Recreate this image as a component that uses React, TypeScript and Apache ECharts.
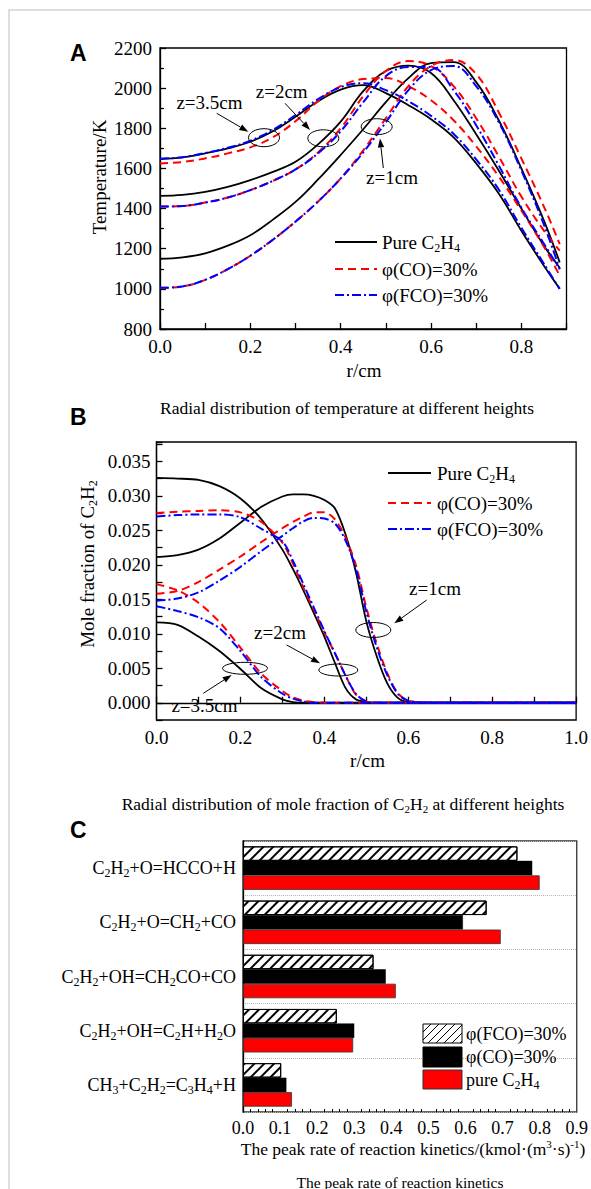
import React, { useEffect, useRef } from 'react';
import * as echarts from 'echarts';

// ---------- Panel A: temperature (K) vs r (cm) ----------
const R_A = [0, 0.05, 0.1, 0.15, 0.2, 0.25, 0.3, 0.35, 0.4, 0.45, 0.5, 0.55, 0.6, 0.65, 0.7, 0.75, 0.8, 0.85, 0.885];
const A1_PURE = [1150, 1157, 1177, 1215, 1267, 1345, 1433, 1545, 1667, 1795, 1930, 2050, 2125, 2130, 2030, 1840, 1600, 1340, 1132];
const A1_CO = [1005, 1012, 1045, 1098, 1165, 1245, 1335, 1435, 1550, 1690, 1850, 2010, 2110, 2140, 2070, 1880, 1650, 1410, 1223];
const A1_FCO = [1005, 1012, 1045, 1098, 1165, 1245, 1335, 1435, 1550, 1680, 1830, 1990, 2090, 2110, 2010, 1830, 1590, 1320, 1098];
const A2_PURE = [1463, 1468, 1483, 1508, 1542, 1583, 1633, 1720, 1833, 1985, 2085, 2112, 2075, 1940, 1770, 1590, 1400, 1215, 1105];
const A2_CO = [1410, 1413, 1430, 1455, 1492, 1538, 1595, 1680, 1800, 1960, 2085, 2135, 2110, 2010, 1850, 1660, 1460, 1290, 1190];
const A2_FCO = [1410, 1413, 1430, 1455, 1492, 1538, 1595, 1675, 1785, 1930, 2060, 2105, 2105, 1990, 1815, 1615, 1405, 1225, 1098];
const A3_PURE = [1647, 1655, 1675, 1700, 1733, 1785, 1858, 1935, 1993, 2015, 1975, 1915, 1845, 1755, 1625, 1475, 1290, 1115, 1000];
const A3_CO = [1625, 1632, 1650, 1675, 1705, 1755, 1835, 1935, 2010, 2045, 2050, 2010, 1940, 1840, 1710, 1560, 1390, 1210, 1065];
const A3_FCO = [1648, 1656, 1677, 1703, 1738, 1792, 1866, 1945, 2005, 2025, 1990, 1935, 1862, 1772, 1645, 1495, 1305, 1125, 1000];

// ---------- Panel B: mole fraction of C2H2 vs r (cm) ----------
const R_B = [0, 0.05, 0.1, 0.15, 0.2, 0.25, 0.3, 0.325, 0.35, 0.375, 0.4, 0.425, 0.45, 0.475, 0.5, 0.525, 0.55, 0.575, 0.6, 0.65, 0.7, 0.8, 0.9, 1.0];
const B1_PURE = [0.0211, 0.0214, 0.0222, 0.0238, 0.0261, 0.0284, 0.0299, 0.0302, 0.0302, 0.03, 0.0294, 0.0282, 0.0245, 0.019, 0.0118, 0.0067, 0.0028, 0.0007, 0.0001, 0, 0, 0, 0, 0];
const B1_CO = [0.0158, 0.0162, 0.0175, 0.0193, 0.0212, 0.0233, 0.0253, 0.0262, 0.027, 0.0276, 0.0276, 0.0266, 0.024, 0.02, 0.0138, 0.0085, 0.0043, 0.0014, 0.0003, 0, 0, 0, 0, 0];
const B1_FCO = [0.0148, 0.0151, 0.016, 0.0177, 0.0197, 0.022, 0.0242, 0.0253, 0.0263, 0.0268, 0.0267, 0.026, 0.0236, 0.0195, 0.0132, 0.008, 0.004, 0.0013, 0.0003, 0, 0, 0, 0, 0];
const B2_PURE = [0.0326, 0.0325, 0.0323, 0.0314, 0.0296, 0.0266, 0.0222, 0.0194, 0.0163, 0.013, 0.0096, 0.0058, 0.0022, 0.0005, 0.0001, 0, 0, 0, 0, 0, 0, 0, 0, 0];
const B2_CO = [0.0275, 0.0277, 0.0278, 0.0279, 0.0276, 0.0262, 0.0232, 0.0202, 0.0167, 0.0135, 0.0102, 0.0072, 0.004, 0.0012, 0.0002, 0, 0, 0, 0, 0, 0, 0, 0, 0];
const B2_FCO = [0.027, 0.0272, 0.0273, 0.0273, 0.0269, 0.0252, 0.0234, 0.0206, 0.0172, 0.0138, 0.0104, 0.0072, 0.004, 0.0013, 0.0002, 0, 0, 0, 0, 0, 0, 0, 0, 0];
const B3_PURE = [0.01165, 0.0113, 0.0096, 0.0075, 0.0049, 0.0021, 0.0005, 0.0001, 0, 0, 0, 0, 0, 0, 0, 0, 0, 0, 0, 0, 0, 0, 0, 0];
const B3_CO = [0.0172, 0.0163, 0.0145, 0.0117, 0.008, 0.0042, 0.0017, 0.0008, 0.0003, 0.0001, 0, 0, 0, 0, 0, 0, 0, 0, 0, 0, 0, 0, 0, 0];
const B3_FCO = [0.014, 0.0133, 0.0124, 0.0108, 0.0075, 0.0037, 0.0013, 0.0006, 0.0002, 0, 0, 0, 0, 0, 0, 0, 0, 0, 0, 0, 0, 0, 0, 0];

// ---------- Panel C: peak reaction rates ----------
const C_CATS = ['CH₃+C₂H₂=C₃H₄+H', 'C₂H₂+OH=C₂H+H₂O', 'C₂H₂+OH=CH₂CO+CO', 'C₂H₂+O=CH₂+CO', 'C₂H₂+O=HCCO+H'];
const C_FCO = [0.103, 0.253, 0.352, 0.657, 0.74];
const C_CO = [0.117, 0.3, 0.385, 0.593, 0.78];
const C_PURE = [0.132, 0.297, 0.412, 0.695, 0.8];

const LEG_PURE = 'Pure C₂H₄';
const LEG_CO = 'φ(CO)=30%';
const LEG_FCO = 'φ(FCO)=30%';
const LEG_C = ['φ(FCO)=30%', 'φ(CO)=30%', 'pure C₂H₄'];

const FONT = 'Liberation Serif, Times New Roman, serif';
const SANS = 'Liberation Sans, Arial, sans-serif';

const SUB: Record<string, string> = { '₀': '0', '₁': '1', '₂': '2', '₃': '3', '₄': '4' };
const SUP: Record<string, string> = { '³': '3', '¹': '1', '⁻': '-' };

function toRich(s: string): string {
  let out = '';
  let cur = '';
  let mode = 'a';
  const flush = () => {
    if (cur) out += '{' + mode + '|' + cur + '}';
    cur = '';
  };
  for (const ch of s) {
    const m = SUB[ch] !== undefined ? 's' : SUP[ch] !== undefined ? 'p' : 'a';
    const c = SUB[ch] ?? SUP[ch] ?? ch;
    if (m !== mode) {
      flush();
      mode = m;
    }
    cur += c;
  }
  flush();
  return out;
}

function richStyles(size: number) {
  const sub = Math.round(size * 0.64);
  return {
    a: { fontSize: size, fontFamily: FONT, color: '#000', lineHeight: size + 4 },
    s: { fontSize: sub, fontFamily: FONT, color: '#000', verticalAlign: 'bottom' },
    p: { fontSize: sub, fontFamily: FONT, color: '#000', verticalAlign: 'top' },
  };
}

function gText(x: number, y: number, s: string, size: number, align = 'center', rotation = 0): any {
  return {
    type: 'text',
    x,
    y,
    rotation,
    z: 100,
    style: { text: toRich(s), rich: richStyles(size), align, verticalAlign: 'middle', fill: '#000' },
  };
}

function arrow(x1: number, y1: number, x2: number, y2: number): any[] {
  const dx = x2 - x1;
  const dy = y2 - y1;
  const L = Math.hypot(dx, dy);
  const ux = dx / L;
  const uy = dy / L;
  const hl = 9;
  const hw = 3.2;
  const bx = x2 - ux * hl;
  const by = y2 - uy * hl;
  return [
    { type: 'line', z: 100, shape: { x1, y1, x2: bx, y2: by }, style: { stroke: '#000', lineWidth: 1 } },
    {
      type: 'polygon',
      z: 100,
      shape: { points: [[x2, y2], [bx - uy * hw, by + ux * hw], [bx + uy * hw, by - ux * hw]] },
      style: { fill: '#000' },
    },
  ];
}

function ellipse(cx: number, cy: number, rx: number, ry: number): any {
  return { type: 'ellipse', z: 100, shape: { cx, cy, rx, ry }, style: { fill: 'none', stroke: '#000', lineWidth: 1 } };
}

const STYLE: Record<string, any> = {
  pure: { color: '#000', type: 'solid', width: 1.8 },
  co: { color: '#ff0000', type: [8, 5], width: 2 },
  fco: { color: '#0000ff', type: [9, 3, 2, 3], width: 2 },
};

function legendLine(x1: number, x2: number, y: number, key: string): any {
  const st = STYLE[key];
  return {
    type: 'line',
    z: 100,
    shape: { x1, y1: y, x2, y2: y },
    style: { stroke: st.color, lineWidth: st.width, lineDash: st.type === 'solid' ? null : st.type },
  };
}

const pairs = (xs: number[], ys: number[]) => xs.map((x, i) => [x, ys[i]]);

function lineSeries(name: string, idx: number, xs: number[], ys: number[], key: string, smooth: number): any {
  return {
    name,
    type: 'line',
    xAxisIndex: idx,
    yAxisIndex: idx,
    data: pairs(xs, ys),
    showSymbol: false,
    symbol: 'none',
    smooth,
    silent: true,
    lineStyle: { ...STYLE[key] },
  };
}

const axisLineStyle = { color: '#000', width: 1.3 };
const labelBase = (size: number) => ({ color: '#000', fontFamily: FONT, fontSize: size });

function hatchLines(x0: number, y0: number, w: number, h: number, step: number): any[] {
  const out: any[] = [];
  for (let c = -h; c < w; c += step) {
    const t0 = Math.max(0, -c);
    const t1 = Math.min(h, w - c);
    if (t1 <= t0) continue;
    out.push({
      type: 'line',
      z: 101,
      shape: { x1: x0 + c + t0, y1: y0 + h - t0, x2: x0 + c + t1, y2: y0 + h - t1 },
      style: { stroke: '#000', lineWidth: 1 },
    });
  }
  return out;
}

function buildOption(): any {
  const evenTenth = (v: number) => Math.abs(Math.round(v * 10) % 2) === 0;
  const graphic: any[] = [
    { type: 'rect', z: 0, shape: { x: 9, y: 10, width: 700, height: 1300 }, style: { fill: 'none', stroke: '#d2d2d2', lineWidth: 1.5 } },
    { type: 'text', x: 70, y: 53, z: 100, style: { text: 'A', font: 'bold 23px ' + SANS, fill: '#000', align: 'left', verticalAlign: 'middle' } },
    { type: 'text', x: 70, y: 417, z: 100, style: { text: 'B', font: 'bold 23px ' + SANS, fill: '#000', align: 'left', verticalAlign: 'middle' } },
    { type: 'text', x: 70, y: 830, z: 100, style: { text: 'C', font: 'bold 23px ' + SANS, fill: '#000', align: 'left', verticalAlign: 'middle' } },
    gText(347, 408, 'Radial distribution of temperature at different heights', 17.5),
    gText(343, 804, 'Radial distribution of mole fraction of C₂H₂ at different heights', 17.5),
    gText(400, 1182, 'The peak rate of reaction kinetics', 15.5),
    // axis names
    gText(99, 177, 'Temperature/K', 19, 'center', Math.PI / 2),
    gText(364, 370, 'r/cm', 19),
    gText(87, 564, 'Mole fraction of C₂H₂', 19, 'center', Math.PI / 2),
    gText(367.5, 760, 'r/cm', 19),
    gText(413, 1149, 'The peak rate of reaction kinetics/(kmol·(m³·s)⁻¹)', 17.5),
    // legend A
    legendLine(335, 377, 242, 'pure'),
    legendLine(335, 377, 269, 'co'),
    legendLine(335, 377, 295, 'fco'),
    gText(382, 242, LEG_PURE, 19, 'left'),
    gText(382, 269, LEG_CO, 19, 'left'),
    gText(382, 295, LEG_FCO, 19, 'left'),
    // legend B
    legendLine(388, 431, 473, 'pure'),
    legendLine(388, 431, 503, 'co'),
    legendLine(388, 431, 529, 'fco'),
    gText(437, 473, LEG_PURE, 19, 'left'),
    gText(437, 503, LEG_CO, 19, 'left'),
    gText(437, 529, LEG_FCO, 19, 'left'),
    // annotations A
    gText(209.5, 102.7, 'z=3.5cm', 19),
    ...arrow(216.7, 113.3, 248.3, 131.7),
    ellipse(264, 137.7, 15.5, 9),
    gText(281.7, 91, 'z=2cm', 19),
    ...arrow(285, 103.3, 310, 130),
    ellipse(323.3, 138.3, 15.5, 8.5),
    gText(392, 177, 'z=1cm', 19),
    ...arrow(383.3, 168, 380, 138.5),
    ellipse(376.7, 126.7, 15.5, 8),
    // annotations B
    gText(204.5, 705, 'z=3.5cm', 19),
    ...arrow(203.3, 693.3, 231.7, 675),
    ellipse(245, 668.3, 22.5, 6),
    gText(280, 632.7, 'z=2cm', 19),
    ...arrow(286.7, 645, 320, 663.3),
    ellipse(338.3, 670, 19.5, 6),
    gText(435, 588.3, 'z=1cm', 19),
    ...arrow(426.7, 600, 394.3, 623.3),
    ellipse(373.3, 630, 17.5, 7.5),
    // legend C
    { type: 'rect', z: 100, shape: { x: 423, y: 1024, width: 39, height: 19 }, style: { fill: '#fff', stroke: '#000', lineWidth: 1 } },
    ...hatchLines(423, 1024, 39, 19, 8),
    { type: 'rect', z: 100, shape: { x: 423, y: 1047, width: 39, height: 20 }, style: { fill: '#000', stroke: '#000', lineWidth: 1 } },
    { type: 'rect', z: 100, shape: { x: 423, y: 1070, width: 39, height: 19 }, style: { fill: '#ff0000', stroke: '#333', lineWidth: 1 } },
    gText(466, 1034, LEG_C[0], 18, 'left'),
    gText(466, 1057, LEG_C[1], 18, 'left'),
    gText(466, 1080, LEG_C[2], 18, 'left'),
  ];

  return {
    animation: false,
    backgroundColor: '#fff',
    textStyle: { fontFamily: FONT },
    grid: [
      { left: 160, top: 48, width: 406.5, height: 281, show: true, borderColor: '#000', borderWidth: 1.3 },
      { left: 156.5, top: 442, width: 422.5, height: 278, show: true, borderColor: '#000', borderWidth: 1.3 },
      { left: 243, top: 841, width: 340, height: 271, show: true, borderColor: '#333', borderWidth: 1.3 },
    ],
    xAxis: [
      {
        gridIndex: 0,
        type: 'value',
        min: 0,
        max: 0.9,
        interval: 0.1,
        axisLine: { lineStyle: axisLineStyle },
        axisTick: { inside: true, length: 6, lineStyle: axisLineStyle },
        axisLabel: { ...labelBase(19), margin: 8, formatter: (v: number) => (evenTenth(v) && v < 0.85 ? v.toFixed(1) : '') },
        splitLine: { show: false },
      },
      {
        gridIndex: 1,
        type: 'value',
        min: 0,
        max: 1,
        interval: 0.1,
        axisLine: { lineStyle: axisLineStyle },
        axisTick: { inside: true, length: 6, lineStyle: axisLineStyle },
        axisLabel: { ...labelBase(19), margin: 8, formatter: (v: number) => (evenTenth(v) ? v.toFixed(1) : '') },
        splitLine: { show: false },
      },
      {
        gridIndex: 2,
        type: 'value',
        min: 0,
        max: 0.9,
        interval: 0.1,
        axisLine: { lineStyle: axisLineStyle },
        axisTick: { inside: true, length: 6, lineStyle: axisLineStyle },
        minorTick: { show: true, splitNumber: 5, length: 3, lineStyle: { color: '#000', width: 1 } },
        axisLabel: { ...labelBase(18), margin: 7, formatter: (v: number) => v.toFixed(1) },
        splitLine: { show: false },
      },
    ],
    yAxis: [
      {
        gridIndex: 0,
        type: 'value',
        min: 800,
        max: 2200,
        interval: 200,
        axisLine: { lineStyle: axisLineStyle },
        axisTick: { inside: true, length: 6, lineStyle: axisLineStyle },
        minorTick: { show: true, splitNumber: 2, length: 4, lineStyle: { color: '#000', width: 1.2 } },
        axisLabel: { ...labelBase(19), margin: 8, formatter: (v: number) => String(Math.round(v)) },
        splitLine: { show: false },
      },
      {
        gridIndex: 1,
        type: 'value',
        min: -0.0025,
        max: 0.0378,
        interval: 0.0025,
        axisLine: { lineStyle: axisLineStyle },
        axisTick: { inside: true, length: 6, lineStyle: axisLineStyle },
        axisLabel: {
          ...labelBase(19),
          margin: 6,
          formatter: (v: number) => {
            const k = v / 0.005;
            return v > -1e-9 && Math.abs(k - Math.round(k)) < 1e-6 ? Math.abs(v).toFixed(3) : '';
          },
        },
        splitLine: { show: false },
      },
      {
        gridIndex: 2,
        type: 'category',
        data: C_CATS,
        axisLine: { lineStyle: axisLineStyle },
        axisTick: { inside: true, length: 5, lineStyle: axisLineStyle },
        axisLabel: { margin: 7, formatter: (v: string) => toRich(v), rich: richStyles(18) },
        splitLine: { show: true, lineStyle: { color: '#b5b5b5', type: 'dotted', width: 1 } },
      },
    ],
    series: [
      lineSeries('A z=1 pure', 0, R_A, A1_PURE, 'pure', 0.4),
      lineSeries('A z=2 pure', 0, R_A, A2_PURE, 'pure', 0.4),
      lineSeries('A z=3.5 pure', 0, R_A, A3_PURE, 'pure', 0.4),
      lineSeries('A z=1 CO', 0, R_A, A1_CO, 'co', 0.4),
      lineSeries('A z=2 CO', 0, R_A, A2_CO, 'co', 0.4),
      lineSeries('A z=3.5 CO', 0, R_A, A3_CO, 'co', 0.4),
      lineSeries('A z=1 FCO', 0, R_A, A1_FCO, 'fco', 0.4),
      lineSeries('A z=2 FCO', 0, R_A, A2_FCO, 'fco', 0.4),
      lineSeries('A z=3.5 FCO', 0, R_A, A3_FCO, 'fco', 0.4),
      lineSeries('B z=1 pure', 1, R_B, B1_PURE, 'pure', 0.3),
      lineSeries('B z=2 pure', 1, R_B, B2_PURE, 'pure', 0.3),
      lineSeries('B z=3.5 pure', 1, R_B, B3_PURE, 'pure', 0.3),
      lineSeries('B z=1 CO', 1, R_B, B1_CO, 'co', 0.3),
      lineSeries('B z=2 CO', 1, R_B, B2_CO, 'co', 0.3),
      lineSeries('B z=3.5 CO', 1, R_B, B3_CO, 'co', 0.3),
      lineSeries('B z=1 FCO', 1, R_B, B1_FCO, 'fco', 0.3),
      lineSeries('B z=2 FCO', 1, R_B, B2_FCO, 'fco', 0.3),
      lineSeries('B z=3.5 FCO', 1, R_B, B3_FCO, 'fco', 0.3),
      {
        name: LEG_C[0],
        type: 'bar',
        xAxisIndex: 2,
        yAxisIndex: 2,
        data: C_FCO,
        barWidth: 14.5,
        barGap: '0%',
        silent: true,
        itemStyle: {
          color: '#fff',
          borderColor: '#000',
          borderWidth: 1,
          decal: {
            symbol: 'rect',
            symbolSize: 1,
            color: '#000',
            backgroundColor: '#fff',
            dashArrayX: [1, 0],
            dashArrayY: [1.2, 4.6],
            rotation: -Math.PI / 4,
          },
        },
      },
      {
        name: LEG_C[1],
        type: 'bar',
        xAxisIndex: 2,
        yAxisIndex: 2,
        data: C_CO,
        barWidth: 14.5,
        barGap: '0%',
        silent: true,
        itemStyle: { color: '#000', borderColor: '#000', borderWidth: 0.5 },
      },
      {
        name: LEG_C[2],
        type: 'bar',
        xAxisIndex: 2,
        yAxisIndex: 2,
        data: C_PURE,
        barWidth: 14.5,
        barGap: '0%',
        silent: true,
        itemStyle: { color: '#ff0000', borderColor: '#333', borderWidth: 0.8 },
      },
    ],
    graphic,
  };
}

export default function App() {
  const ref = useRef<HTMLDivElement>(null);
  useEffect(() => {
    document.body.style.margin = '0';
    const chart = echarts.init(ref.current as HTMLDivElement, null, { renderer: 'svg' });
    chart.setOption(buildOption());
    return () => chart.dispose();
  }, []);
  return <div ref={ref} style={{ width: 591, height: 1189 }} />;
}
